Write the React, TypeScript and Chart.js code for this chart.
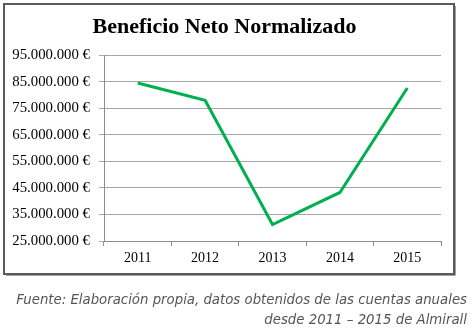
import React, { useEffect, useRef } from "react";
import { Chart, registerables } from "chart.js";

Chart.register(...registerables);

const years = ["2011", "2012", "2013", "2014", "2015"];
const beneficio = [84600000, 78100000, 31200000, 43300000, 82700000];
const yMin = 25000000;
const yMax = 95000000;
const yStep = 10000000;
const titleText = "Beneficio Neto Normalizado";
const captionLines = [
  "Fuente: Elaboración propia, datos obtenidos de las cuentas anuales",
  "desde 2011 – 2015 de Almirall",
];

function fmtEuro(v: number): string {
  const s = Math.round(v).toString().replace(/\B(?=(\d{3})+(?!\d))/g, ".");
  return s + " €";
}

const framePlugin = {
  id: "frame",
  beforeDraw(chart: any) {
    const ctx = chart.ctx;
    ctx.save();
    ctx.strokeStyle = "#a0a0a0";
    ctx.lineWidth = 1;
    ctx.beginPath();
    ctx.moveTo(6, 275.5);
    ctx.lineTo(455.5, 275.5);
    ctx.lineTo(455.5, 6);
    ctx.stroke();
    ctx.strokeStyle = "#5a5a5a";
    ctx.lineWidth = 2;
    ctx.strokeRect(4, 4, 450, 270);
    ctx.restore();
  },
};

export default function App() {
  const ref = useRef<HTMLCanvasElement | null>(null);

  useEffect(() => {
    if (!ref.current) return;
    const chart = new Chart(ref.current, {
      type: "line",
      data: {
        labels: years,
        datasets: [
          {
            data: beneficio,
            borderColor: "#00b050",
            borderWidth: 3,
            pointRadius: 0,
            fill: false,
            tension: 0,
          },
        ],
      },
      options: {
        animation: false,
        responsive: false,
        maintainAspectRatio: false,
        layout: { padding: { top: 4, left: 8, right: 34, bottom: 58 } },
        plugins: {
          legend: { display: false },
          tooltip: { enabled: false },
          title: {
            display: true,
            text: titleText,
            color: "#000",
            font: { family: "'Liberation Serif', 'Times New Roman', serif", size: 22, weight: "bold" },
            padding: { top: 10, bottom: 15 },
          },
        },
        scales: {
          x: {
            offset: true,
            grid: {
              offset: true,
              drawOnChartArea: false,
              drawTicks: true,
              tickLength: 5,
              color: "#8c8c8c",
            },
            border: { display: true, color: "#8c8c8c", width: 1 },
            ticks: {
              color: "#000",
              padding: 4,
              font: { family: "'Liberation Serif', 'Times New Roman', serif", size: 14 },
              maxRotation: 0,
            },
            afterFit: (s: any) => {
              s.height = 30;
            },
          },
          y: {
            min: yMin,
            max: yMax,
            grid: {
              color: "#a6a6a6",
              drawTicks: true,
              tickLength: 5,
            },
            border: { display: true, color: "#8c8c8c", width: 1 },
            ticks: {
              stepSize: yStep,
              color: "#000",
              padding: 9,
              font: { family: "'Liberation Serif', 'Times New Roman', serif", size: 14.8 },
              callback: (v: any) => fmtEuro(Number(v)),
            },
            afterFit: (s: any) => {
              s.width = 96;
            },
          },
        },
      },
      plugins: [framePlugin],
    });
    return () => chart.destroy();
  }, []);

  return (
    <div style={{ position: "absolute", left: 0, top: 0, width: 475, height: 329, background: "#fff", overflow: "hidden" }}>
      <canvas ref={ref} width={475} height={329} style={{ position: "absolute", left: 0, top: 0, width: 475, height: 329 }} />
      <div
        style={{
          position: "absolute",
          right: 8,
          top: 290,
          textAlign: "right",
          fontFamily: "'DejaVu Sans', Verdana, sans-serif",
          fontStyle: "italic",
          fontSize: 13.3,
          lineHeight: "20px",
          color: "#555",
          whiteSpace: "nowrap",
        }}
      >
        {captionLines.map((l, i) => (
          <div key={i}>{l}</div>
        ))}
      </div>
    </div>
  );
}
